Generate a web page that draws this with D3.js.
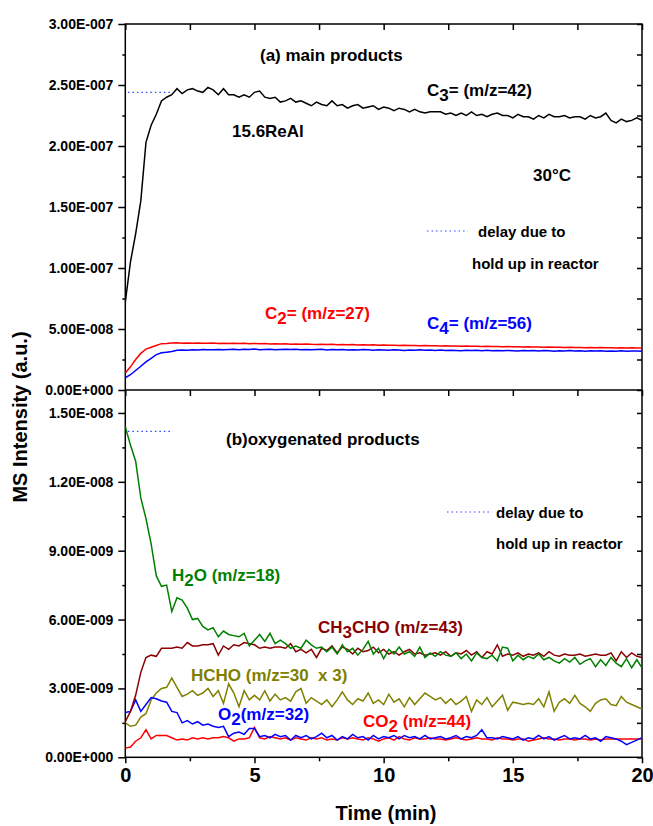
<!DOCTYPE html>
<html>
<head>
<meta charset="utf-8">
<script src="https://cdn.jsdelivr.net/npm/d3@7"></script>
<style>
  body { margin: 0; background: #fff; }
  svg { font-family: "Liberation Sans", Arial, sans-serif; font-weight: bold; }
</style>
</head>
<body>
<svg id="chart" width="653" height="826"></svg>
<script>
// time in min, one sample every 0.2 min
const time = [
  0, 0.2, 0.4, 0.6, 0.8, 1, 1.2, 1.4, 1.6, 1.8,
  2, 2.2, 2.4, 2.6, 2.8, 3, 3.2, 3.4, 3.6, 3.8,
  4, 4.2, 4.4, 4.6, 4.8, 5, 5.2, 5.4, 5.6, 5.8,
  6, 6.2, 6.4, 6.6, 6.8, 7, 7.2, 7.4, 7.6, 7.8,
  8, 8.2, 8.4, 8.6, 8.8, 9, 9.2, 9.4, 9.6, 9.8,
  10, 10.2, 10.4, 10.6, 10.8, 11, 11.2, 11.4, 11.6, 11.8,
  12, 12.2, 12.4, 12.6, 12.8, 13, 13.2, 13.4, 13.6, 13.8,
  14, 14.2, 14.4, 14.6, 14.8, 15, 15.2, 15.4, 15.6, 15.8,
  16, 16.2, 16.4, 16.6, 16.8, 17, 17.2, 17.4, 17.6, 17.8,
  18, 18.2, 18.4, 18.6, 18.8, 19, 19.2, 19.4, 19.6, 19.8,
  20
];

// (a) main products, units of 1E-8
const c3 = [
  7.2, 10.5, 12.8, 15.5, 20.3, 21.7, 22.6, 23.7, 24.0, 24.2,
  24.7, 24.3, 24.6, 24.7, 24.5, 24.4, 24.8, 24.6, 24.2, 24.7,
  24.2, 24.2, 24.0, 24.2, 24.0, 24.4, 24.5, 24.0, 23.9, 24.0,
  23.6, 23.7, 23.9, 23.6, 23.7, 23.5, 23.3, 23.6, 23.4, 23.3,
  23.7, 23.3, 23.4, 23.1, 23.3, 23.4, 23.1, 23.2, 23.3, 23.0,
  23.2, 23.1, 22.9, 23.1, 23.0, 22.8, 23.0, 22.8, 22.7, 22.8,
  22.8, 22.8, 22.6, 22.7, 22.5, 22.7, 22.5, 22.8, 22.5, 22.6,
  22.4, 22.6, 22.7, 22.5, 22.5, 22.3, 22.6, 22.4, 22.4, 22.2,
  22.5, 22.3, 22.6, 22.4, 22.4, 22.5, 22.3, 22.4, 22.4, 22.2,
  22.5, 22.3, 22.4, 22.7, 22.1, 21.9, 22.2, 22.0, 22.1, 22.3,
  22.1
];
const c2 = [
  1.4, 1.9, 2.5, 3.0, 3.35, 3.5, 3.65, 3.8, 3.82, 3.85,
  3.87, 3.84, 3.85, 3.83, 3.86, 3.84, 3.83, 3.85, 3.82, 3.84,
  3.82, 3.83, 3.81, 3.84, 3.80, 3.82, 3.79, 3.81, 3.78, 3.80,
  3.77, 3.79, 3.76, 3.78, 3.75, 3.77, 3.74, 3.73, 3.75, 3.72,
  3.74, 3.71, 3.72, 3.70, 3.72, 3.69, 3.70, 3.68, 3.70, 3.67,
  3.68, 3.66, 3.67, 3.65, 3.66, 3.64, 3.65, 3.63, 3.64, 3.62,
  3.63, 3.61, 3.62, 3.60, 3.61, 3.59, 3.60, 3.58, 3.59, 3.57,
  3.58, 3.56, 3.57, 3.55, 3.56, 3.54, 3.55, 3.53, 3.54, 3.52,
  3.53, 3.51, 3.52, 3.50, 3.51, 3.49, 3.50, 3.48, 3.49, 3.47,
  3.48, 3.47, 3.48, 3.46, 3.47, 3.45, 3.46, 3.45, 3.46, 3.45,
  3.45
];
const c4 = [
  1.0, 1.25, 1.6, 1.95, 2.3, 2.6, 2.9, 3.05, 3.1, 3.15,
  3.25, 3.28, 3.26, 3.30, 3.27, 3.31, 3.29, 3.30, 3.32, 3.29,
  3.31, 3.33, 3.30, 3.34, 3.31, 3.36, 3.30, 3.32, 3.33, 3.30,
  3.32, 3.34, 3.31, 3.33, 3.30, 3.32, 3.29, 3.31, 3.33, 3.28,
  3.31, 3.29, 3.32, 3.28, 3.30, 3.27, 3.31, 3.29, 3.26, 3.30,
  3.28, 3.25, 3.29, 3.27, 3.24, 3.28, 3.26, 3.29, 3.25, 3.27,
  3.24, 3.27, 3.23, 3.26, 3.24, 3.21, 3.25, 3.23, 3.26, 3.22,
  3.25, 3.22, 3.24, 3.21, 3.24, 3.22, 3.19, 3.23, 3.21, 3.24,
  3.20, 3.23, 3.21, 3.18, 3.22, 3.20, 3.23, 3.19, 3.21, 3.18,
  3.22, 3.19, 3.21, 3.17, 3.20, 3.18, 3.21, 3.17, 3.19, 3.20,
  3.18
];

// (b) oxygenated products, units of 1E-9
const h2o = [
  14.4, 13.6, 12.9, 11.3, 10.4, 9.3, 7.9, 7.45, 7.5, 6.35,
  6.95, 6.85, 6.5, 6.0, 6.05, 5.7, 5.55, 5.65, 5.25, 5.5,
  5.35, 5.3, 5.25, 5.4, 4.85, 5.1, 5.35, 5.05, 5.4, 4.95,
  5.1, 4.95, 4.75, 4.85, 4.75, 5.1, 4.9, 4.75, 4.8, 4.6,
  4.8, 4.5, 4.9, 4.6, 4.75, 4.45, 4.7, 5.05, 4.5, 4.75,
  4.3, 4.7, 4.5, 4.8, 4.5, 4.6, 4.4, 4.8, 4.35, 4.55,
  4.4, 4.6, 4.45, 4.4, 4.55, 4.3, 4.5, 4.2, 4.55, 4.35,
  4.3, 4.45, 4.2, 4.8, 4.75, 4.2, 4.45, 4.25, 4.4, 4.3,
  4.5, 4.25, 4.35, 4.2, 4.1, 4.3, 4.15, 4.35, 4.05, 4.2,
  4.3, 3.95, 4.25, 4.0, 4.35, 4.1, 3.95, 4.3, 3.9, 4.25,
  3.9
];
const ch3cho = [
  1.55, 2.0, 2.7, 3.7, 4.35, 4.45, 4.4, 4.75, 4.75, 4.75,
  4.8, 4.75, 5.0, 4.85, 4.85, 4.9, 4.9, 4.95, 4.45, 4.85,
  4.7, 4.9, 4.85, 5.0, 4.95, 4.9, 4.75, 4.8, 4.75, 4.8,
  4.8, 4.75, 4.95, 4.6, 4.7, 4.55, 4.7, 4.35, 4.75, 4.65,
  4.85, 4.55, 4.8, 4.7, 4.5, 4.75, 4.6, 4.65, 4.8, 4.55,
  4.7, 4.5, 4.6, 4.45, 4.6, 4.7, 4.5, 4.55, 4.45, 4.5,
  4.55, 4.45, 4.6, 4.4, 4.55, 4.5, 4.65, 4.45, 4.6, 4.35,
  4.6, 4.5, 4.9, 4.4, 4.5, 4.45, 4.55, 4.4, 4.5, 4.45,
  4.55, 4.4, 4.6, 4.45, 4.4, 4.5, 4.45, 4.45, 4.5, 4.4,
  4.45, 4.5, 4.45, 4.45, 4.55, 4.2, 4.6, 4.35, 4.55, 4.4,
  4.35
];
const hcho = [
  1.5, 1.35, 1.4, 1.75, 1.9, 2.5, 2.8, 3.0, 3.05, 3.45,
  3.05, 2.65, 2.75, 2.9, 2.7, 2.8, 3.0, 2.65, 2.9, 2.35,
  3.2, 2.8, 2.2, 2.9, 2.5, 2.7, 2.5, 2.9, 2.45, 2.75,
  2.5, 2.6, 2.45, 2.85, 3.0, 2.35, 2.6, 2.45, 2.3, 2.5,
  2.2, 2.5, 2.85, 2.5, 2.3, 2.55, 2.45, 2.8, 2.35, 2.5,
  2.3, 2.75, 2.4, 2.55, 2.2, 2.6, 2.3, 2.55, 2.8, 2.65,
  2.5, 2.6, 2.35, 2.55, 2.3, 2.45, 2.65, 2.0, 2.5, 2.3,
  2.6, 2.2, 2.45, 2.7, 2.05, 2.4, 2.35, 2.3, 2.35, 2.3,
  2.55, 2.2, 2.85, 2.0, 2.4, 2.55, 2.35, 2.7, 2.35, 2.2,
  2.0, 2.35, 2.5, 2.55, 2.3, 2.25, 2.65, 2.4, 2.3, 2.2,
  2.1
];
const o2 = [
  1.95, 2.0, 2.5, 2.0, 2.3, 2.6, 2.55, 2.45, 2.4, 2.0,
  1.95, 1.5, 1.6, 1.45, 1.55, 1.4, 1.45, 1.35, 1.3, 1.35,
  0.9, 1.05, 1.1, 1.0, 1.25, 1.25, 0.9, 0.95, 0.85, 1.0,
  0.9, 0.95, 0.75, 0.95, 0.85, 0.95, 0.8, 0.9, 1.05, 0.85,
  0.95, 0.75, 0.9, 0.8, 1.0, 0.85, 0.9, 0.75, 0.95, 0.8,
  0.9, 0.85, 0.95, 0.8, 0.95, 0.85, 0.9, 0.8, 0.95, 0.8,
  0.85, 0.9, 0.8, 0.85, 0.95, 0.8, 0.9, 0.85, 0.95, 1.2,
  0.85, 0.85, 0.8, 0.9, 0.85, 0.8, 0.9, 0.75, 0.85, 0.8,
  0.95, 0.8, 0.9, 0.75, 0.85, 0.95, 0.8, 0.85, 0.8, 0.95,
  0.8, 0.85, 0.7, 0.9, 0.85, 0.8, 0.7, 0.55, 0.65, 0.75,
  0.85
];
const co2 = [
  0.4, 0.45, 0.7, 0.85, 1.2, 0.8, 0.95, 0.95, 0.95, 0.85,
  0.75, 0.8, 0.75, 0.85, 0.8, 0.85, 0.8, 0.85, 0.85, 0.9,
  0.85, 0.7, 0.8, 0.8, 0.85, 1.3, 0.85, 0.8, 0.9, 0.85,
  0.8, 0.85, 0.75, 0.85, 0.8, 0.75, 0.85, 0.8, 0.85, 0.75,
  0.8, 0.75, 0.85, 0.8, 0.85, 0.8, 0.75, 0.85, 0.8, 0.7,
  0.8, 0.85, 0.75, 0.9, 0.8, 0.75, 0.85, 0.8, 0.8, 0.85,
  0.8, 0.8, 0.75, 0.8, 0.85, 0.8, 0.75, 0.8, 0.85, 0.8,
  0.8, 0.75, 0.85, 0.8, 0.8, 0.75, 0.8, 0.8, 0.7, 0.75,
  0.8, 0.85, 0.8, 0.8, 0.75, 0.8, 0.8, 0.75, 0.8, 0.8,
  0.75, 0.8, 0.75, 0.8, 0.8, 0.8, 0.8, 0.8, 0.8, 0.8,
  0.8
];

// axis ticks and labels
const xTicks = [0, 5, 10, 15, 20];
const xMinor = [2.5, 7.5, 12.5, 17.5];
const topTicks = [0, 5, 10, 15, 20, 25, 30];
const topTickLabels = ['0.00E+000', '5.00E-008', '1.00E-007', '1.50E-007', '2.00E-007', '2.50E-007', '3.00E-007'];
const topMinor = [2.5, 7.5, 12.5, 17.5, 22.5, 27.5];
const botTicks = [0, 3, 6, 9, 12, 15];
const botTickLabels = ['0.00E+000', '3.00E-009', '6.00E-009', '9.00E-009', '1.20E-008', '1.50E-008'];
const botMinor = [1.5, 4.5, 7.5, 10.5, 13.5];

document.addEventListener('DOMContentLoaded', () => {

  const svg = d3.select('#chart');
  const left = 125.3, right = 642, top = 24, mid = 390, bottom = 757.3;

  const x = d3.scaleLinear().domain([0, 20]).range([left, right]);
  const yTop = d3.scaleLinear().domain([0, 30]).range([mid, top]);
  const yBot = d3.scaleLinear().domain([0, 16]).range([bottom, mid]);

  function styleAxis(g, size) {
    g.attr('font-family', null).attr('font-size', size);
    g.select('.domain').remove();
    g.selectAll('line').attr('stroke', '#000').attr('stroke-width', 1.5);
    g.selectAll('text').attr('fill', '#000');
  }

  // left axes, major with labels plus short minor ticks
  svg.append('g')
    .attr('transform', `translate(${left},0)`)
    .call(d3.axisLeft(yTop).tickValues(topTicks).tickFormat((d, i) => topTickLabels[i]).tickSize(7).tickPadding(5))
    .call(g => styleAxis(g, 14));
  svg.append('g')
    .attr('transform', `translate(${left},0)`)
    .call(d3.axisLeft(yTop).tickValues(topMinor).tickFormat('').tickSize(3))
    .call(g => styleAxis(g, 14));
  svg.append('g')
    .attr('transform', `translate(${left},0)`)
    .call(d3.axisLeft(yBot).tickValues(botTicks).tickFormat((d, i) => botTickLabels[i]).tickSize(7).tickPadding(5))
    .call(g => styleAxis(g, 14));
  svg.append('g')
    .attr('transform', `translate(${left},0)`)
    .call(d3.axisLeft(yBot).tickValues(botMinor).tickFormat('').tickSize(3))
    .call(g => styleAxis(g, 14));

  // right axes, inward ticks
  svg.append('g')
    .attr('transform', `translate(${right},0)`)
    .call(d3.axisRight(yTop).tickValues(topTicks.concat(topMinor)).tickFormat('').tickSize(-5))
    .call(g => styleAxis(g, 14));
  svg.append('g')
    .attr('transform', `translate(${right},0)`)
    .call(d3.axisRight(yBot).tickValues(botTicks.concat(botMinor)).tickFormat('').tickSize(-5))
    .call(g => styleAxis(g, 14));

  // top frame and the shared middle line, ticks pointing down
  svg.append('g')
    .attr('transform', `translate(0,${top})`)
    .call(d3.axisTop(x).tickValues(xTicks.concat(xMinor)).tickFormat('').tickSize(-6))
    .call(g => styleAxis(g, 14));
  svg.append('g')
    .attr('transform', `translate(0,${mid})`)
    .call(d3.axisTop(x).tickValues(xTicks.concat(xMinor)).tickFormat('').tickSize(-6))
    .call(g => styleAxis(g, 14));

  // bottom time axis
  svg.append('g')
    .attr('transform', `translate(0,${bottom})`)
    .call(d3.axisBottom(x).tickValues(xTicks).tickFormat(d3.format('d')).tickSize(6).tickPadding(5))
    .call(g => styleAxis(g, 20));
  svg.append('g')
    .attr('transform', `translate(0,${bottom})`)
    .call(d3.axisBottom(x).tickValues(xMinor).tickFormat('').tickSize(4))
    .call(g => styleAxis(g, 20));

  // frame
  const frame = svg.append('g').attr('fill', 'none').attr('stroke', '#000').attr('stroke-width', 1.5);
  frame.append('rect').attr('x', left).attr('y', top).attr('width', right - left).attr('height', bottom - top);
  frame.append('line').attr('x1', left).attr('x2', right).attr('y1', mid).attr('y2', mid);

  // series
  svg.append('clipPath').attr('id', 'clip-top').append('rect')
    .attr('x', left).attr('y', top).attr('width', right - left).attr('height', mid - top);
  svg.append('clipPath').attr('id', 'clip-bot').append('rect')
    .attr('x', left).attr('y', mid).attr('width', right - left).attr('height', bottom - mid);

  const topSeries = [
    { values: c3, color: '#000000' },
    { values: c2, color: '#ff0000' },
    { values: c4, color: '#0000ff' }
  ];
  const botSeries = [
    { values: hcho, color: '#808000' },
    { values: co2, color: '#ff0000' },
    { values: o2, color: '#0000ff' },
    { values: ch3cho, color: '#8b0000' },
    { values: h2o, color: '#008000' }
  ];

  const lineTop = d3.line().x((d, i) => x(time[i])).y(d => yTop(d));
  const lineBot = d3.line().x((d, i) => x(time[i])).y(d => yBot(d));

  svg.append('g').attr('clip-path', 'url(#clip-top)')
    .selectAll('path').data(topSeries).enter().append('path')
      .attr('fill', 'none')
      .attr('stroke', d => d.color)
      .attr('stroke-width', 1.5)
      .attr('d', d => lineTop(d.values));
  svg.append('g').attr('clip-path', 'url(#clip-bot)')
    .selectAll('path').data(botSeries).enter().append('path')
      .attr('fill', 'none')
      .attr('stroke', d => d.color)
      .attr('stroke-width', 1.5)
      .attr('d', d => lineBot(d.values));

  // dotted "delay" markers
  const dotted = [
    { x1: 0.1, x2: 1.75, y: yTop(24.4) },
    { x1: 11.68, x2: 13.26, y: 231 },
    { x1: 0.1, x2: 1.75, y: yBot(14.2) },
    { x1: 12.45, x2: 14.2, y: 512 }
  ];
  svg.append('g').selectAll('line').data(dotted).enter().append('line')
    .attr('x1', d => x(d.x1)).attr('x2', d => x(d.x2))
    .attr('y1', d => d.y).attr('y2', d => d.y)
    .attr('stroke', '#3344ff').attr('stroke-width', 1.2).attr('stroke-dasharray', '1.5,3');

  // annotations; each part is [text, subscript?]
  const notes = [
    { x: 260, y: 61, color: '#000', size: 17, parts: [['(a) main products']] },
    { x: 427, y: 96, color: '#000', size: 17, parts: [['C'], ['3', true], ['= (m/z=42)']] },
    { x: 232, y: 137, color: '#000', size: 17, parts: [['15.6ReAl']] },
    { x: 533, y: 181, color: '#000', size: 17, parts: [['30°C']] },
    { x: 478, y: 237, color: '#000', size: 15, parts: [['delay due to']] },
    { x: 472, y: 269, color: '#000', size: 15, parts: [['hold up in reactor']] },
    { x: 265, y: 319, color: '#ff0000', size: 17, parts: [['C'], ['2', true], ['= (m/z=27)']] },
    { x: 427, y: 329, color: '#0000ff', size: 17, parts: [['C'], ['4', true], ['= (m/z=56)']] },
    { x: 226, y: 445, color: '#000', size: 17, parts: [['(b)oxygenated products']] },
    { x: 496, y: 518, color: '#000', size: 15, parts: [['delay due to']] },
    { x: 496, y: 549, color: '#000', size: 15, parts: [['hold up in reactor']] },
    { x: 172, y: 581, color: '#008000', size: 17, parts: [['H'], ['2', true], ['O (m/z=18)']] },
    { x: 318, y: 633, color: '#8b0000', size: 17, parts: [['CH'], ['3', true], ['CHO (m/z=43)']] },
    { x: 191, y: 681, color: '#808000', size: 17, parts: [['HCHO (m/z=30  x 3)']] },
    { x: 218, y: 720, color: '#0000ff', size: 17, parts: [['O'], ['2', true], ['(m/z=32)']] },
    { x: 363, y: 727, color: '#ff0000', size: 17, parts: [['CO'], ['2', true], [' (m/z=44)']] }
  ];
  const note = svg.append('g').selectAll('text').data(notes).enter().append('text')
    .attr('x', d => d.x).attr('y', d => d.y)
    .attr('fill', d => d.color)
    .attr('font-size', d => d.size)
    .style('white-space', 'pre');
  note.each(function (d) {
    const t = d3.select(this);
    let shift = 0;
    for (const [s, sub] of d.parts) {
      const dy = sub ? 5 - shift : -shift;
      shift = sub ? 5 : 0;
      t.append('tspan').attr('dy', dy).text(s);
    }
  });

  // axis titles
  svg.append('text')
    .attr('transform', `translate(27,417) rotate(-90)`)
    .attr('text-anchor', 'middle')
    .attr('font-size', 20)
    .text('MS Intensity (a.u.)');
  svg.append('text')
    .attr('x', 386).attr('y', 820)
    .attr('text-anchor', 'middle')
    .attr('font-size', 20)
    .text('Time (min)');
});
</script>
</body>
</html>
